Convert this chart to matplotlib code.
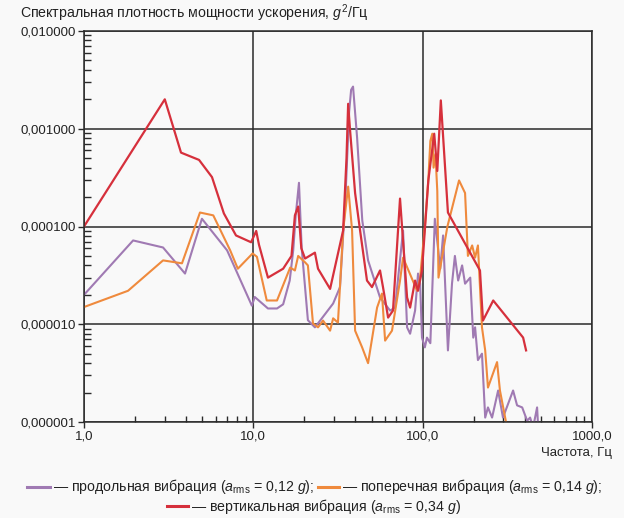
import matplotlib
matplotlib.use("Agg")
import matplotlib.pyplot as plt
from matplotlib.lines import Line2D
from matplotlib.ticker import FuncFormatter, LogLocator, NullFormatter

plt.rcParams['font.family'] = ['Liberation Sans', 'DejaVu Sans']
plt.rcParams['mathtext.fontset'] = 'custom'
plt.rcParams['mathtext.rm'] = 'Liberation Sans'
plt.rcParams['mathtext.it'] = 'Liberation Sans:italic'

# продольная вибрация
freq_long = [1.0, 1.95, 2.93, 3.95, 4.97, 7.0, 9.8, 10.2, 12.2, 13.8, 15.0, 16.4, 17.2,
             17.8, 18.6, 19.3, 21.0, 23.1, 24.8, 29.6, 32.5, 35.0, 36.8, 37.8, 38.8,
             41.0, 44.0, 47.6, 56.0, 64.2, 68.7, 76.6, 80.9, 84.3, 90.2, 93.9, 96.6,
             99.1, 103, 106, 111, 118, 127, 132, 141, 149, 155, 162, 171, 178, 191,
             199, 204, 212, 224, 234, 243, 257, 279, 298, 342, 361, 387, 414, 431,
             449, 474, 481]
psd_long = [2.0e-5, 7.2e-5, 6.1e-5, 3.3e-5, 1.2e-4, 5.7e-5, 1.55e-5, 1.9e-5, 1.45e-5,
            1.45e-5, 1.6e-5, 2.8e-5, 5.7e-5, 1.3e-4, 2.8e-4, 6.0e-5, 1.1e-5, 9.3e-6,
            1.09e-5, 1.63e-5, 2.4e-5, 2.0e-4, 1.5e-3, 2.5e-3, 2.7e-3, 8.1e-4, 1.15e-4,
            4.5e-5, 1.88e-5, 1.38e-5, 1.48e-5, 9.1e-5, 9.3e-6, 8.0e-6, 1.38e-5, 3.3e-5,
            2.6e-5, 7.3e-6, 5.8e-6, 7.3e-6, 6.4e-6, 1.2e-4, 3.7e-5, 8.1e-5, 5.4e-6,
            2.6e-5, 5.0e-5, 2.8e-5, 4.0e-5, 2.6e-5, 3.0e-5, 7.3e-6, 9.3e-6, 4.3e-6,
            5.0e-6, 1.11e-6, 1.41e-6, 1.11e-6, 2.1e-6, 1.11e-6, 2.1e-6, 1.48e-6,
            1.41e-6, 1.03e-6, 1.11e-6, 8.8e-7, 1.41e-6, 8.8e-7]

# поперечная вибрация
freq_lat = [1.0, 1.82, 2.93, 3.79, 4.84, 5.8, 7.3, 8.1, 9.9, 10.5, 12.0, 13.8, 16.5,
            17.6, 18.4, 20.2, 21.0, 22.5, 24.1, 25.8, 28.4, 29.6, 31.6, 33.9, 36.3,
            38.3, 39.9, 43.9, 47.6, 53.8, 57.5, 60.0, 65.9, 73.5, 76.6, 92.7, 96.6,
            103, 108, 111, 114, 116, 119, 122, 124, 140, 164, 178, 185, 196, 204,
            212, 224, 234, 243, 275, 286, 315]
psd_lat = [1.5e-5, 2.2e-5, 4.5e-5, 4.2e-5, 1.39e-4, 1.3e-4, 5.7e-5, 3.7e-5, 5.3e-5,
           4.9e-5, 1.75e-5, 1.75e-5, 3.8e-5, 3.55e-5, 5.0e-5, 4.3e-5, 4.0e-5, 1.02e-5,
           9.3e-6, 1.09e-5, 8.6e-6, 1.15e-5, 1.04e-5, 9.1e-5, 2.56e-4, 9.1e-5, 8.6e-6,
           5.8e-6, 4.0e-6, 1.48e-5, 2.06e-5, 6.8e-6, 8.6e-6, 2.8e-5, 4.8e-5, 2.2e-5,
           3.0e-5, 1.0e-4, 3.0e-4, 7.5e-4, 8.9e-4, 4.0e-4, 5.5e-4, 2.3e-4, 3.0e-5,
           1.0e-4, 2.96e-4, 2.2e-4, 5.0e-5, 6.4e-5, 4.8e-5, 6.4e-5, 9.3e-6, 5.4e-6,
           2.25e-6, 4.1e-6, 2.1e-6, 8.8e-7]

# вертикальная вибрация
freq_vert = [1.0, 3.0, 3.74, 4.78, 5.7, 6.7, 7.9, 9.7, 10.4, 10.8, 12.2, 15.0, 16.8,
             17.6, 18.4, 19.2, 20.2, 23.1, 24.1, 28.4, 33.9, 35.5, 36.3, 37.2, 39.9,
             42.7, 46.9, 50.2, 56.0, 58.3, 62.5, 66.8, 73.5, 80.9, 84.3, 90.2, 93.9,
             99.1, 108, 117, 122, 128, 141, 218, 227, 261, 392, 408]
psd_vert = [1.0e-4, 2.0e-3, 5.7e-4, 4.8e-4, 3.2e-4, 1.36e-4, 8.1e-5, 6.9e-5, 9.0e-5,
            6.5e-5, 3.0e-5, 3.7e-5, 5.0e-5, 1.3e-4, 1.6e-4, 6.0e-5, 4.7e-5, 5.4e-5,
            3.7e-5, 2.3e-5, 9.1e-5, 5.0e-4, 1.8e-3, 1.0e-3, 2.2e-4, 9.1e-5, 2.8e-5,
            2.4e-5, 3.55e-5, 2.4e-5, 1.17e-5, 1.38e-5, 1.93e-4, 1.88e-5, 1.48e-5,
            2.8e-5, 2.2e-5, 3.55e-5, 2.96e-4, 8.9e-4, 3.7e-4, 1.95e-3, 1.39e-4,
            3.55e-5, 1.09e-5, 1.75e-5, 7.3e-6, 5.4e-6]

c_long = '#a07ab3'
c_lat = '#ef8a3d'
c_vert = '#d6303c'
bg = '#f9f9f9'
txt = '#222222'

fig = plt.figure(figsize=(6.24, 5.18), dpi=100, facecolor=bg)
ax = fig.add_axes([84/624, 1-422/518, (592-84)/624, (422-31)/518])
ax.set_facecolor(bg)

ax.plot(freq_long, psd_long, color=c_long, lw=1.5)
ax.plot(freq_lat, psd_lat, color=c_lat, lw=1.5)
ax.plot(freq_vert, psd_vert, color=c_vert, lw=1.6)

ax.set_xscale('log')
ax.set_yscale('log')
ax.set_xlim(1, 1000)
ax.set_ylim(1e-6, 1e-2)

ax.xaxis.set_major_locator(LogLocator(base=10, numticks=10))
ax.yaxis.set_major_locator(LogLocator(base=10, numticks=10))
ax.xaxis.set_minor_locator(LogLocator(base=10, subs=range(2, 10), numticks=10))
ax.yaxis.set_minor_locator(LogLocator(base=10, subs=range(2, 10), numticks=10))
ax.xaxis.set_minor_formatter(NullFormatter())
ax.yaxis.set_minor_formatter(NullFormatter())
ax.xaxis.set_major_formatter(FuncFormatter(lambda v, p: f"{v:.1f}".replace('.', ',')))
ax.yaxis.set_major_formatter(FuncFormatter(lambda v, p: f"{v:.6f}".replace('.', ',')))

ax.grid(True, which='major', color='#2a2a2a', lw=1.1)
for s in ax.spines.values():
    s.set_color('#2a2a2a')
    s.set_linewidth(1.1)
ax.tick_params(which='major', direction='out', length=4, width=1, color='#2a2a2a',
               labelsize=9.5, pad=2, labelcolor=txt)
ax.tick_params(which='minor', direction='in', length=4, width=1, color='#2a2a2a')
ax.tick_params(axis='y', which='minor', length=5)

fig.text(20/624, 1-13/518, 'Спектральная плотность мощности ускорения, $g^2$/Гц',
         fontsize=10.2, ha='left', va='center', color=txt)
fig.text(612/624, 1-453/518, 'Частота, Гц', fontsize=9.5, ha='right', va='center',
         color=txt)

# легенда
def sample(x0, x1, y, color):
    fig.add_artist(Line2D([x0/624, x1/624], [1-y/518, 1-y/518], color=color, lw=2.2,
                          transform=fig.transFigure))

sample(27, 50, 487, c_long)
fig.text(53/624, 1-487/518, r'— продольная вибрация ($a_{\mathrm{rms}}$ = 0,12 $g$);',
         fontsize=10.2, ha='left', va='center', color=txt)
sample(318, 339, 487, c_lat)
fig.text(342/624, 1-487/518, r'— поперечная вибрация ($a_{\mathrm{rms}}$ = 0,14 $g$);',
         fontsize=10.2, ha='left', va='center', color=txt)
sample(167, 188, 506, c_vert)
fig.text(191/624, 1-506/518, r'— вертикальная вибрация ($a_{\mathrm{rms}}$ = 0,34 $g$)',
         fontsize=10.2, ha='left', va='center', color=txt)

fig.savefig('out.png', dpi=100, facecolor=bg)
